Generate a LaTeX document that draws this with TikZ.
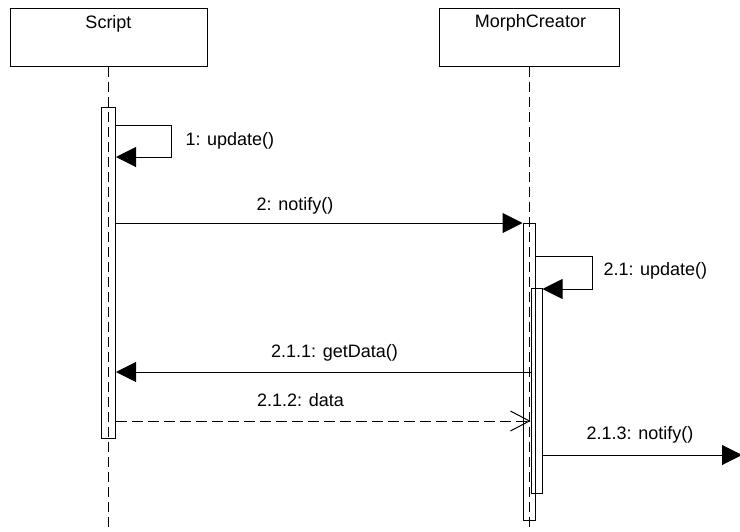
\documentclass[tikz,border=0pt]{standalone}
\usepackage{fontspec}
\setmainfont{Liberation Sans}
\usepackage{tikz}
\usetikzlibrary{arrows.meta}

\begin{document}
\begin{tikzpicture}[
  x=1pt, y=-1pt,
  line width=1pt,
  objbox/.style={rectangle, draw=black, minimum height=58pt, inner sep=0pt},
  objname/.style={anchor=base, inner sep=0pt, font=\fontsize{18}{20}\selectfont},
  actbar/.style={rectangle, draw=black, inner sep=0pt},
  lifeline/.style={dash pattern=on 10pt off 5pt},
  callmsg/.style={-{Triangle[length=20pt,width=20pt]}},
  retmsg/.style={-{Straight Barb[length=19pt,width=20pt]}, dash pattern=on 11pt off 5pt},
  msglabel/.style={anchor=base, inner sep=0pt, font=\fontsize{18}{20}\selectfont}
]
\useasboundingbox (0,0) rectangle (740,531);

% objects
\node[objbox, minimum width=197pt] (script) at (108.5,37) {};
\node[objname] (scriptname) at (108.5,28) {Script};
\node[objbox, minimum width=180pt] (morph) at (529,37) {};
\node[objname] (morphname) at (530.5,27.5) {MorphCreator};

% lifelines
\coordinate (scriptend) at (108.5,531);
\coordinate (morphend) at (529,531);
\draw[lifeline] (script.south) -- (scriptend);
\draw[lifeline] (morph.south) -- (morphend);

% activations
\node[actbar, minimum width=14pt, minimum height=331pt] (act1) at (108.5,272.5) {};
\node[actbar, minimum width=12pt, minimum height=297pt] (act2) at (529,371.5) {};
\node[actbar, minimum width=11pt, minimum height=205pt] (act3) at (536.5,390.5) {};

% message levels
\coordinate (turn1) at (171,125);
\coordinate (back1) at (171,157);
\coordinate (m2) at (0,223);
\coordinate (turn21) at (592,256);
\coordinate (back21) at (592,289);
\coordinate (m211) at (0,372);
\coordinate (m212) at (0,421);
\coordinate (out213) at (742,455);

% messages
\draw[callmsg] (act1.east |- turn1) -- (turn1) -- (back1) -- (act1.east |- back1);
\draw[callmsg] (act1.east |- m2) -- (act2.west |- m2);
\draw[callmsg] (act2.east |- turn21) -- (turn21) -- (back21) -- (act3.east |- back21);
\draw[callmsg] (act3.west |- m211) -- (act1.east |- m211);
\draw[retmsg] (act1.east |- m212) -- (act3.west |- m212);
\draw[callmsg] (act3.east |- out213) -- (out213);

% labels
\node[msglabel, anchor=base west] (l1) at (185,145) {1: update()};
\node[msglabel] (l2) at (295,210) {2: notify()};
\node[msglabel, anchor=base west] (l21) at (603,275) {2.1: update()};
\node[msglabel] (l211) at (334.5,357) {2.1.1: getData()};
\node[msglabel] (l212) at (300.5,406) {2.1.2: data};
\node[msglabel] (l213) at (640,439) {2.1.3: notify()};
\end{tikzpicture}
\end{document}
